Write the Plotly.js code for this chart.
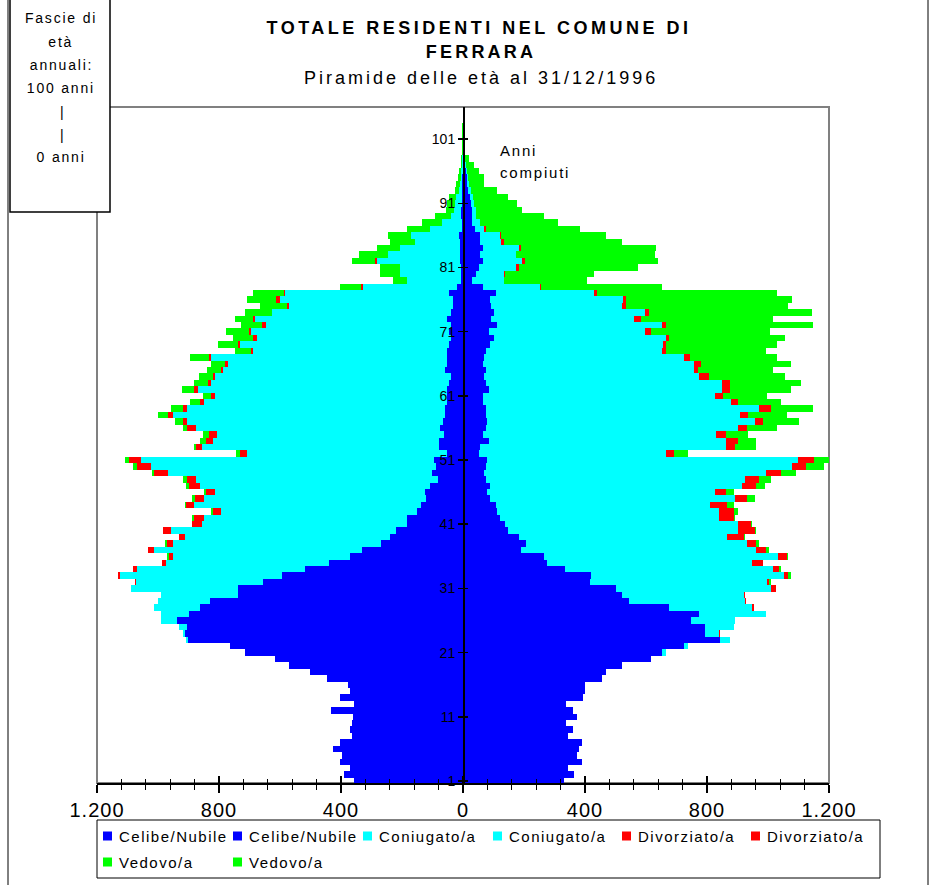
<!DOCTYPE html>
<html><head><meta charset="utf-8">
<script src="https://cdn.plot.ly/plotly-3.0.1.min.js"></script>
<style>
html,body{margin:0;padding:0;background:#fff;}
#chart{width:935px;height:885px;}
.xtick text{letter-spacing:1px;}
</style>
</head><body><div id="chart"></div>
<script>
// Age classes (category index shown on the axis)
const ages = [1,2,3,4,5,6,7,8,9,10,11,12,13,14,15,16,17,18,19,20,21,22,23,24,25,26,27,28,29,30,
31,32,33,34,35,36,37,38,39,40,41,42,43,44,45,46,47,48,49,50,51,52,53,54,55,56,57,58,59,60,
61,62,63,64,65,66,67,68,69,70,71,72,73,74,75,76,77,78,79,80,81,82,83,84,85,86,87,88,89,90,
91,92,93,94,95,96,97,98,99,100,101,102,103,104];

// MALES (left side)
const mCelibi = [358,389,370,403,398,426,403,365,370,363, 362,433,357,403,370,376,447,502,570,616,
715,764,903,911,906,939,900,862,830,739, 739,656,592,518,441,370,331,269,239,220,
184,184,151,138,121,125,108,82,102,90, 95,52,79,79,62,75,66,59,59,52,
52,52,46,39,59,52,52,52,46,39, 46,39,52,39,33,33,46,21,8,7,
7,10,10,10,10,13,4,4,7,5, 4,4,3,2,2,1,1,1,0,0, 0,0,0,0];
const mConiugati = [0,0,0,0,0,0,0,0,0,0, 0,0,0,0,0,0,0,0,0,0,
0,0,6,6,25,51,90,151,171,251, 350,417,533,552,533,581,682,682,672,737,
672,665,642,744,728,688,754,793,866,933, 962,656,776,741,745,800,839,892,846,797,
761,817,780,774,728,718,774,637,685,636, 649,607,630,587,537,567,538,307,176,200,
200,272,236,197,147,157,104,65,32,25, 22,18,10,9,6,5,3,2,1,1, 1,0,0,0];
const mDivorziati = [0,0,0,0,0,0,0,0,0,0, 0,0,0,0,0,0,0,0,0,0,
0,0,0,0,0,0,0,0,0,0, 0,4,7,13,14,13,20,19,20,27,
32,32,27,25,31,30,38,30,45,45, 38,22,20,23,26,30,13,16,13,13,
13,13,10,7,6,10,7,6,7,14, 7,13,7,0,7,13,3,6,0,0,
0,7,0,0,0,0,0,0,0,0, 0,0,0,0,0,0,0,0,0,0, 0,0,0,0];
const mVedovi = [0,0,0,0,0,0,0,0,0,0, 0,0,0,0,0,0,0,0,0,0,
0,0,0,0,0,0,0,0,0,0, 0,0,0,0,0,6,0,7,0,0,
0,7,6,6,8,5,7,12,6,13, 13,14,6,19,19,13,26,33,39,33,
26,39,46,46,46,46,62,53,65,65, 75,69,59,89,89,95,102,69,46,65,
65,75,95,75,82,76,76,65,53,25, 26,23,12,11,8,8,3,3,3,3, 3,3,3,0];

// FEMALES (right side)
const fNubili = [332,364,345,389,375,381,389,345,359,339, 374,359,339,395,401,401,457,470,520,615,
651,726,844,792,792,749,775,674,543,520, 500,418,421,336,274,264,189,208,182,149,
139,120,113,107,87,80,90,77,70,74, 80,51,56,84,67,74,80,77,77,64,
64,84,77,70,74,64,70,77,87,100, 84,113,93,100,93,87,107,64,31,44,
51,67,57,64,57,57,38,31,31,28, 25,22,18,14,12,10,7,5,2,1, 1,0,0,0];
const fConiugate = [0,0,0,0,0,0,0,0,0,0, 0,0,0,0,0,0,0,0,0,0,
13,13,33,46,95,144,220,275,380,400, 511,580,633,682,675,770,773,722,685,751,
764,718,725,704,806,745,826,846,922,1006, 1017,616,805,777,764,826,876,830,895,816,
761,764,771,705,682,692,653,574,570,564, 514,538,469,498,427,439,324,187,102,89,
124,128,118,118,69,63,32,26,13,15, 12,10,8,6,4,3,2,1,0,0, 0,0,0,0];
const fDivorziate = [0,0,0,0,0,0,0,0,0,0, 0,0,0,0,0,0,0,0,0,0,
0,0,0,6,0,0,0,6,5,5, 14,5,13,19,33,27,30,32,53,56,
40,49,49,56,37,36,46,49,49,43, 55,26,32,39,30,30,29,29,39,20,
29,26,26,30,16,23,20,16,10,10, 20,16,20,13,16,10,7,6,0,6,
7,7,0,7,7,3,4,0,0,0, 0,0,0,0,0,0,0,0,0,0, 0,0,0,0];
const fVedove = [0,0,0,0,0,0,0,0,0,0, 0,0,0,0,0,0,0,0,0,0,
0,0,0,0,0,0,0,0,0,0, 0,7,7,7,0,6,10,7,6,6,
6,6,13,20,26,26,27,39,52,59, 59,46,69,62,75,101,115,125,135,144,
144,200,233,252,246,295,288,325,364,383, 387,482,433,532,531,544,593,394,275,289,
393,436,456,445,387,347,308,253,220,152, 139,114,87,50,54,40,28,14,5,4, 4,5,5,0];

const xTickVals = [-1200,-800,-400,0,400,800,1200];
const xTickText = ['1.200','800','400','0','400','800','1.200'];
const yTickVals = [1,11,21,31,41,51,61,71,81,91,101];
const legendNames = ['Celibe/Nubile','Celibe/Nubile','Coniugato/a','Coniugato/a','Divorziato/a','Divorziato/a','Vedovo/a','Vedovo/a'];

const FONT = 'Arial, "Liberation Sans", sans-serif';
const C_BLUE='#0000FF', C_CYAN='#00FFFF', C_RED='#FF0000', C_GREEN='#00FF00';
const colors = [C_BLUE,C_BLUE,C_CYAN,C_CYAN,C_RED,C_RED,C_GREEN,C_GREEN];

function bar(name, vals, color, left){
  return {type:'bar', orientation:'h', y:ages, x: vals.map(v=> left ? -v : v),
    name:name, marker:{color:color, line:{width:0}}, hoverinfo:'skip', showlegend:false};
}
const traces = [
  bar(legendNames[0], mCelibi, colors[0], true),
  bar(legendNames[1], fNubili, colors[1], false),
  bar(legendNames[2], mConiugati, colors[2], true),
  bar(legendNames[3], fConiugate, colors[3], false),
  bar(legendNames[4], mDivorziati, colors[4], true),
  bar(legendNames[5], fDivorziate, colors[5], false),
  bar(legendNames[6], mVedovi, colors[6], true),
  bar(legendNames[7], fVedove, colors[7], false),
  {type:'scatter', x:[], y:[], xaxis:'x2', yaxis:'y', showlegend:false, hoverinfo:'skip'},
  {type:'scatter', x:[], y:[], xaxis:'x', yaxis:'y2', showlegend:false, hoverinfo:'skip'}
];

const L=97, R=829, T=107, B=783;
const px = x => (x-L)/(R-L);
const py = y => (B-y)/(B-T);

const annotations = [];
const spacing = [];
function ann(text, x, y, size, xanchor, ls){
  annotations.push({text:text, xref:'paper', yref:'paper', x:px(x), y:py(y), xanchor:xanchor||'center',
    align: xanchor==='left' ? 'left' : 'center', borderpad:0,
    yanchor:'middle', showarrow:false, font:{family:FONT, size:size, color:'#000'}});
  spacing.push(ls||0);
}

ann('<b>TOTALE RESIDENTI NEL COMUNE DI</b>', 479, 28, 18, 'center', 3.5);
ann('<b>FERRARA</b>', 481, 52, 18, 'center', 3.2);
ann('Piramide delle età al 31/12/1996', 481, 78, 18, 'center', 3.0);
ann('Anni', 499, 150, 15, 'left', 1.8);
ann('compiuti', 499, 172, 15, 'left', 1.8);
ann('Fascie di', 61, 18, 14, 'center', 1.8);
ann('età', 61, 42, 14, 'center', 1.8);
ann('annuali:', 61, 65, 14, 'center', 1.8);
ann('100 anni', 61, 88, 14, 'center', 1.8);
ann('|', 61.5, 112, 14, 'center', 0);
ann('|', 61.5, 135, 14, 'center', 0);
ann('0 anni', 61, 157, 14, 'center', 1.8);

const shapes = [
  // chart area border
  {type:'rect', xref:'paper', yref:'paper', x0:px(8), x1:px(928), y0:py(895), y1:py(-10), line:{color:'#000', width:1}, layer:'below'},
  // plot area frame
  {type:'rect', xref:'paper', yref:'paper', x0:0, x1:1, y0:0, y1:1, line:{color:'#808080', width:2}, layer:'below'},
  // text box top-left
  {type:'rect', xref:'paper', yref:'paper', x0:px(10), x1:px(110), y0:py(212), y1:py(-2),
    fillcolor:'#fff', line:{color:'#000', width:1.5}, layer:'above'},
  // legend box
  {type:'rect', xref:'paper', yref:'paper', x0:px(97), x1:px(880), y0:py(878), y1:py(820),
    fillcolor:'#fff', line:{color:'#000', width:1}, layer:'above'}
];

// legend keys (layout of the Excel legend: 6 per row)
const keyX = [103,233,363,493,622,751,103,233];
const keyY = [836,836,836,836,836,836,862,862];
for(let i=0;i<legendNames.length;i++){
  shapes.push({type:'rect', xref:'paper', yref:'paper', x0:px(keyX[i]), x1:px(keyX[i]+9),
    y0:py(keyY[i]+4.5), y1:py(keyY[i]-4.5), fillcolor:colors[i], line:{width:0}, layer:'above'});
  ann(legendNames[i], keyX[i]+15, keyY[i], 15, 'left', 1.5);
}

const layout = {
  width:935, height:885,
  margin:{l:L, r:935-R, t:T, b:885-B, autoexpand:false},
  paper_bgcolor:'#fff', plot_bgcolor:'#fff',
  barmode:'relative', bargap:0,
  font:{family:FONT, color:'#000'},
  showlegend:false,
  xaxis:{range:[-1200,1200], tickvals:xTickVals, ticktext:xTickText, ticks:'outside', ticklen:8,
    tickwidth:1.5, tickcolor:'#000', minor:{dtick:80, tick0:0, ticks:'outside', ticklen:5, tickwidth:1, tickcolor:'#000'},
    showline:true, linecolor:'#000', linewidth:2, showgrid:false, zeroline:false,
    tickfont:{size:20, family:FONT, color:'#000'}, fixedrange:true},
  xaxis2:{overlaying:'x', anchor:'y', side:'bottom', range:[-1200,1200], tickvals:xTickVals, ticks:'inside', ticklen:7,
    tickwidth:1.5, tickcolor:'#000', minor:{dtick:80, tick0:0, ticks:'inside', ticklen:4, tickwidth:1, tickcolor:'#000'},
    showticklabels:false, showline:false, showgrid:false, zeroline:false, fixedrange:true},
  yaxis:{range:[0.69,106], anchor:'free', position:0.5, tickvals:yTickVals, ticks:'outside', ticklen:5,
    tickwidth:1.5, tickcolor:'#000', showline:true, linecolor:'#000', linewidth:1.5, showgrid:false, zeroline:false,
    tickfont:{size:14, family:FONT, color:'#000'}, fixedrange:true},
  yaxis2:{overlaying:'y', anchor:'free', position:0.5, side:'right', range:[0.69,106], tickvals:yTickVals,
    ticks:'outside', ticklen:4, tickwidth:1.5, tickcolor:'#000', showticklabels:false, showline:false,
    showgrid:false, zeroline:false, fixedrange:true},
  annotations:annotations,
  shapes:shapes
};

Plotly.newPlot('chart', traces, layout, {displayModeBar:false, staticPlot:true}).then(function(gd){
  gd.querySelectorAll('.annotation').forEach(function(g){
    const i = +g.getAttribute('data-index');
    const t = g.querySelector('.annotation-text');
    if(t && spacing[i]) t.style.letterSpacing = spacing[i] + 'px';
  });
});
</script></body></html>
